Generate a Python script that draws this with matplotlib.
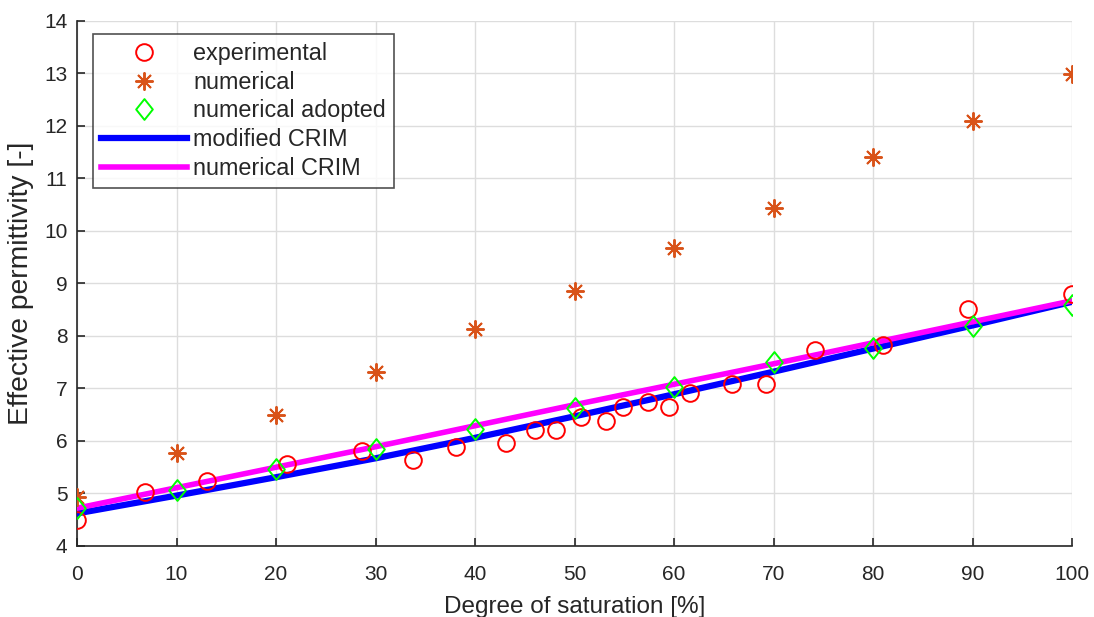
import matplotlib
matplotlib.use("Agg")
import matplotlib.pyplot as plt
from matplotlib.path import Path

plt.rcParams['font.family'] = ['Liberation Sans', 'DejaVu Sans']

# experimental data
exp_s = [0, 6.8, 13.1, 21.1, 28.6, 33.8, 38.1, 43.1, 46.0, 48.1, 50.7,
         53.2, 54.9, 57.4, 59.5, 61.6, 65.8, 69.2, 74.2, 81.0, 89.5, 100]
exp_eps = [4.50, 5.02, 5.24, 5.56, 5.80, 5.64, 5.89, 5.97, 6.21, 6.21, 6.46,
           6.38, 6.64, 6.74, 6.64, 6.91, 7.08, 7.08, 7.73, 7.82, 8.51, 8.80]

# numerical results
num_s = [0, 10, 20, 30, 40, 50, 60, 70, 80, 90, 100]
num_eps = [4.93, 5.77, 6.50, 7.31, 8.13, 8.86, 9.68, 10.44, 11.41, 12.10, 12.99]
adopt_eps = [4.72, 5.07, 5.46, 5.85, 6.23, 6.63, 7.02, 7.50, 7.77, 8.19, 8.59]

# model curves
crim_s = [0, 10, 20, 30, 40, 50, 60, 70, 80, 90, 100]
mod_crim = [4.62, 4.96, 5.31, 5.67, 6.06, 6.47, 6.89, 7.32, 7.76, 8.20, 8.65]
num_crim = [4.72, 5.11, 5.50, 5.89, 6.29, 6.69, 7.08, 7.47, 7.87, 8.27, 8.67]

dark = '#262626'
diamond = Path([(0, 1), (0.8, 0), (0, -1), (-0.8, 0), (0, 1)],
               [Path.MOVETO, Path.LINETO, Path.LINETO, Path.LINETO, Path.CLOSEPOLY])

fig = plt.figure(figsize=(10.94, 6.17), dpi=100)
ax = fig.add_axes([0.0704, 0.1151, 0.9095, 0.8509])

h1, = ax.plot(exp_s, exp_eps, 'o', ms=12, mfc='none', mec='#FF0000', mew=1.4,
              zorder=4, label='experimental')
h2, = ax.plot(num_s, num_eps, ls='none', marker=(8, 2, 0), ms=13, mec='#D95319',
              mew=1.4, zorder=4, label='numerical')
h3, = ax.plot(num_s, adopt_eps, ls='none', marker=diamond, ms=15, mfc='none',
              mec='#00FF00', mew=1.4, zorder=4, label='numerical adopted')
h4, = ax.plot(crim_s, mod_crim, color='#0000FF', lw=4.5, zorder=3,
              label='modified CRIM')
h5, = ax.plot(crim_s, num_crim, color='#FF00FF', lw=4, zorder=3,
              label='numerical CRIM')

ax.set_xlim(0, 100)
ax.set_ylim(4, 14)
ax.set_xticks(range(0, 101, 10))
ax.set_yticks(range(4, 15))
ax.grid(True, color='#DDDDDD', lw=1)
ax.set_axisbelow(True)
ax.spines['top'].set_visible(False)
ax.spines['right'].set_visible(False)
for sp in ['left', 'bottom']:
    ax.spines[sp].set_color(dark)
    ax.spines[sp].set_linewidth(1.2)
ax.tick_params(direction='in', length=6, width=1.2, color=dark,
               labelcolor=dark, labelsize=15)
ax.tick_params(axis='x', pad=14)
ax.tick_params(axis='y', pad=7)

ax.set_xlabel('Degree of saturation [%]', fontsize=17.5, color=dark, labelpad=8)
ax.set_ylabel('Effective permittivity [-]', fontsize=20.3, color=dark, labelpad=7)

leg = ax.legend(handles=[h1, h2, h3, h4, h5], loc='upper left',
                bbox_to_anchor=(0.016, 0.975), fontsize=16.8, frameon=True,
                fancybox=False, handlelength=3.7, handletextpad=0.25,
                labelspacing=0.24, borderpad=0.35, borderaxespad=0)
leg.get_frame().set_edgecolor(dark)
leg.get_frame().set_linewidth(1.2)
for t in leg.get_texts():
    t.set_color(dark)

fig.savefig('out.png', dpi=100)
